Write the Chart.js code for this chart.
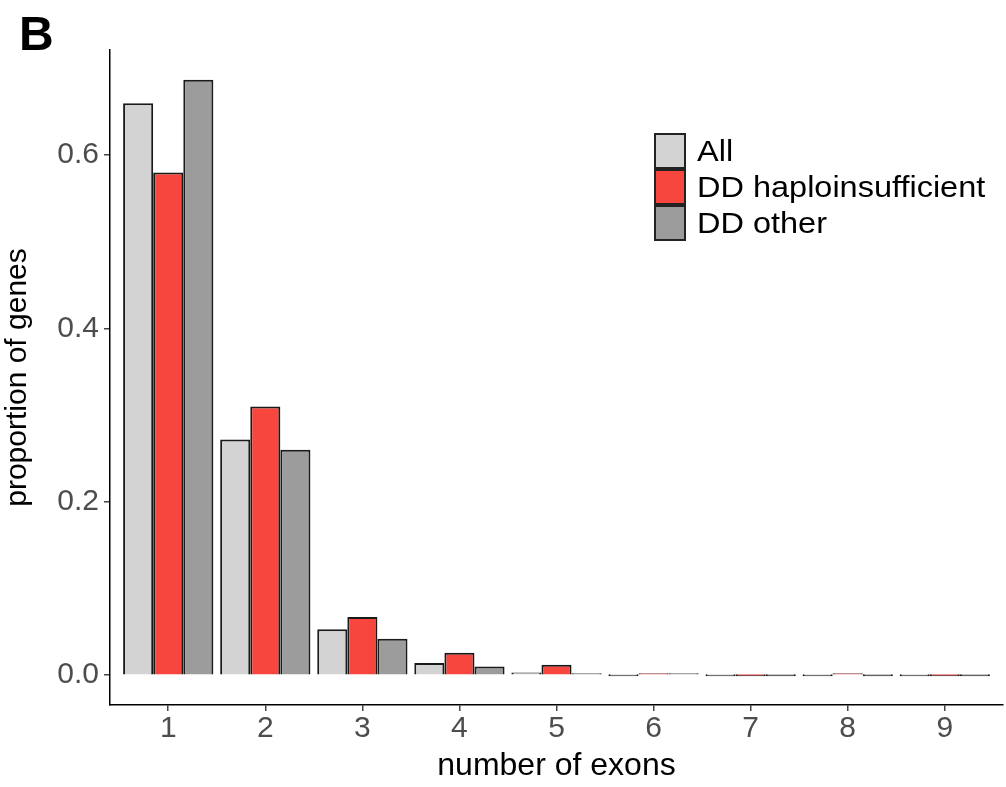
<!DOCTYPE html>
<html>
<head>
<meta charset="utf-8">
<script src="https://cdn.jsdelivr.net/npm/chart.js@4.4.0/dist/chart.umd.min.js"></script>
<style>
  html, body { margin: 0; padding: 0; background: #fff; }
  #wrap { position: relative; width: 1006px; height: 787px; }
</style>
</head>
<body>
<div id="wrap"><canvas id="c" width="1006" height="787"></canvas></div>
<script>
// exon counts on the x axis
const EXONS = ['1', '2', '3', '4', '5', '6', '7', '8', '9'];
// proportion of genes per exon count
const ALL   = [0.660, 0.272, 0.053, 0.014, 0.003, 0.000, 0.000, 0.000, 0.000];
const DD_HI = [0.580, 0.310, 0.067, 0.026, 0.012, 0.002, 0.000, 0.002, 0.000];
const DD_OT = [0.687, 0.260, 0.042, 0.010, 0.001, 0.001, 0.000, 0.000, 0.000];
const Y_TICKS = [0, 0.2, 0.4, 0.6];

const FONT = "'Liberation Sans', Arial, sans-serif";
const toPts = arr => arr.map((v, i) => ({x: i + 1, y: v}));

// ggplot-like legend, drawn inside the panel
const legendBox = {
  id: 'legendBox',
  afterDraw(chart) {
    const ctx = chart.ctx;
    const x0 = 654, y0 = 133, w = 32, h = 36;
    ctx.save();
    chart.data.datasets.forEach((ds, i) => {
      const y = y0 + i * h;
      ctx.fillStyle = ds.backgroundColor;
      ctx.fillRect(x0, y, w, h);
      ctx.strokeStyle = '#222';
      ctx.lineWidth = 2;
      ctx.strokeRect(x0 + 1, y + 1, w - 2, h - 2);
      // text is a bit wide in the original, stretch it slightly
      ctx.save();
      ctx.translate(x0 + w + 11, y + h / 2 + 2);
      ctx.scale(1.12, 1);
      ctx.fillStyle = '#000';
      ctx.font = '29px ' + FONT;
      ctx.textBaseline = 'middle';
      ctx.fillText(ds.label, 0, 0);
      ctx.restore();
    });
    // panel letter
    ctx.fillStyle = '#000';
    ctx.font = 'bold 48px ' + FONT;
    ctx.textBaseline = 'alphabetic';
    ctx.fillText('B', 19, 50);
    ctx.restore();
  }
};

new Chart(document.getElementById('c'), {
  type: 'bar',
  data: {
    datasets: [
      {label: 'All', data: toPts(ALL), backgroundColor: '#d3d3d3'},
      {label: 'DD haploinsufficient', data: toPts(DD_HI), backgroundColor: '#f6463e'},
      {label: 'DD other', data: toPts(DD_OT), backgroundColor: '#9c9c9c'}
    ].map(d => Object.assign(d, {
      borderColor: '#1a1a1a', borderWidth: 2, minBarLength: 2,
      categoryPercentage: 0.93, barPercentage: 1.0
    }))
  },
  options: {
    responsive: false,
    animation: false,
    layout: {padding: {left: 0, top: 50, right: 3, bottom: 0}},
    plugins: {legend: {display: false}, tooltip: {enabled: false}},
    scales: {
      x: {
        type: 'linear', min: 0.4, max: 9.6, offset: false,
        afterBuildTicks: s => { s.ticks = EXONS.map((l, i) => ({value: i + 1})); },
        afterFit: s => { s.height = 82; },
        ticks: {
          callback: v => EXONS[v - 1], color: '#4d4d4d', padding: 0,
          font: {family: FONT, size: 30}, maxRotation: 0, autoSkip: false
        },
        grid: {display: true, offset: false, drawOnChartArea: false, drawTicks: true, tickLength: 6, color: '#444', lineWidth: 1.5},
        border: {display: true, color: '#000', width: 1.5},
        title: {display: true, text: 'number of exons', color: '#000', font: {family: FONT, size: 32}, padding: {top: 0, bottom: 2}}
      },
      y: {
        min: -0.0344, max: 0.7214,
        afterBuildTicks: s => { s.ticks = Y_TICKS.map(v => ({value: v})); },
        afterFit: s => { s.width = 110; },
        ticks: {
          callback: v => v.toFixed(1), color: '#4d4d4d', padding: 5,
          font: {family: FONT, size: 30}
        },
        grid: {display: true, drawOnChartArea: false, drawTicks: true, tickLength: 6, color: '#444', lineWidth: 1.5},
        border: {display: true, color: '#000', width: 1.5},
        title: {display: true, text: 'proportion of genes', color: '#000', font: {family: FONT, size: 30}, padding: {top: 0, bottom: 0}}
      }
    }
  },
  plugins: [legendBox]
});
</script>
</body>
</html>
